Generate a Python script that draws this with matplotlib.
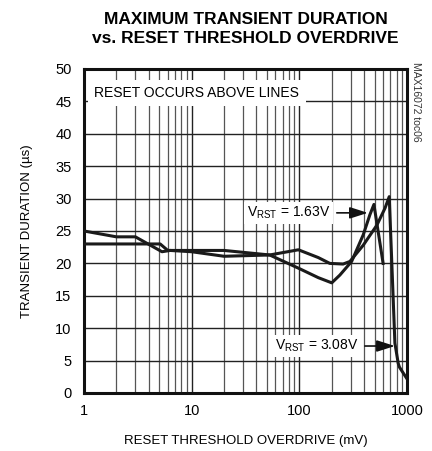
import matplotlib
matplotlib.use("Agg")
import matplotlib.pyplot as plt
from matplotlib.ticker import FixedLocator, NullFormatter

FONT = ['Liberation Sans Narrow', 'Liberation Sans', 'DejaVu Sans']
plt.rcParams['font.family'] = FONT
plt.rcParams['mathtext.fontset'] = 'custom'
plt.rcParams['mathtext.rm'] = 'Liberation Sans'

# ---- data ----
x_163 = [1, 2, 3, 5.3, 6.3, 10, 20, 53, 100, 150, 200, 238, 306, 392, 452, 493, 600]
y_163 = [25, 24.1, 24.1, 21.8, 22.0, 21.8, 21.1, 21.3, 19.2, 17.8, 17.0, 18.2, 20.3, 24.4, 27.5, 29.1, 20.0]

x_308 = [1, 3.7, 5.1, 6.0, 10, 20, 53, 98, 150, 192, 255, 295, 392, 525, 624, 684, 772, 828, 850, 990]
y_308 = [23, 23, 23, 22.0, 22.0, 22.0, 21.3, 22.1, 20.9, 20.0, 19.9, 20.3, 22.8, 25.9, 28.5, 30.3, 7.7, 4.6, 4.0, 2.3]

x_ticks = [1, 10, 100, 1000]
x_tick_labels = ['1', '10', '100', '1000']
y_ticks = [0, 5, 10, 15, 20, 25, 30, 35, 40, 45, 50]

title = "MAXIMUM TRANSIENT DURATION\nvs. RESET THRESHOLD OVERDRIVE"
xlabel = "RESET THRESHOLD OVERDRIVE (mV)"
ylabel = "TRANSIENT DURATION (µs)"
note = "RESET OCCURS ABOVE LINES"
label_163 = r"V$_{\mathrm{RST}}$ = 1.63V"
label_308 = r"V$_{\mathrm{RST}}$ = 3.08V"
arrow_163 = (433, 27.8)
arrow_308 = (772, 7.25)
watermark = "MAX16072 toc06"

fig = plt.figure(figsize=(4.32, 4.51), dpi=100)
ax = fig.add_axes([84/432, 1-393/451, (407-84)/432, (393-69)/451])
ax.set_xscale('log')
ax.set_xlim(1, 1000)
ax.set_ylim(0, 50)

minor = [m*10**d for d in range(3) for m in range(2, 10)]
ax.xaxis.set_major_locator(FixedLocator(x_ticks))
ax.xaxis.set_minor_locator(FixedLocator(minor))
ax.xaxis.set_minor_formatter(NullFormatter())
ax.set_xticks(x_ticks)
ax.set_xticklabels(x_tick_labels)
ax.set_yticks(y_ticks)
ax.tick_params(which='both', length=0, labelsize=10.5, pad=9)
ax.tick_params(axis='x', pad=8)

ax.grid(True, which='major', color='#222222', lw=1.0)
ax.grid(True, which='minor', axis='x', color='#555555', lw=0.9)
ax.set_axisbelow(True)
for s in ax.spines.values():
    s.set_linewidth(2.2)
    s.set_color('#111111')

ax.plot(x_163, y_163, color='#1a1a1a', lw=2.2, zorder=3)
ax.plot(x_308, y_308, color='#1a1a1a', lw=2.2, zorder=3)

ax.text(1.25, 46.3, note, fontsize=10, va='center', ha='left', zorder=5,
        bbox=dict(boxstyle='square,pad=0.45', fc='white', ec='none'))

arrowprops = dict(arrowstyle='-|>,head_length=1.1,head_width=0.35',
                  color='#111111', lw=1.2, shrinkA=3, shrinkB=0)
ax.annotate(label_163, xy=arrow_163, xytext=(192, 27.8), textcoords='data',
            fontsize=10, ha='right', va='center', zorder=5,
            bbox=dict(boxstyle='square,pad=0.2', fc='white', ec='none'),
            arrowprops=arrowprops)
ax.annotate(label_308, xy=arrow_308, xytext=(350, 7.25), textcoords='data',
            fontsize=10, ha='right', va='center', zorder=5,
            bbox=dict(boxstyle='square,pad=0.2', fc='white', ec='none'),
            arrowprops=arrowprops)

ax.set_xlabel(xlabel, fontsize=9.5, labelpad=12)
ax.set_ylabel(ylabel, fontsize=9.5, labelpad=16)

fig.text(245.5/432, 1-29/451, title, ha='center', va='center', fontsize=12.5,
         fontweight='bold', linespacing=1.3)
fig.text(416/432, 1-62/451, watermark, rotation=270, ha='center', va='top',
         fontsize=7.5, color='#333333')

fig.savefig('out.png', dpi=100)
